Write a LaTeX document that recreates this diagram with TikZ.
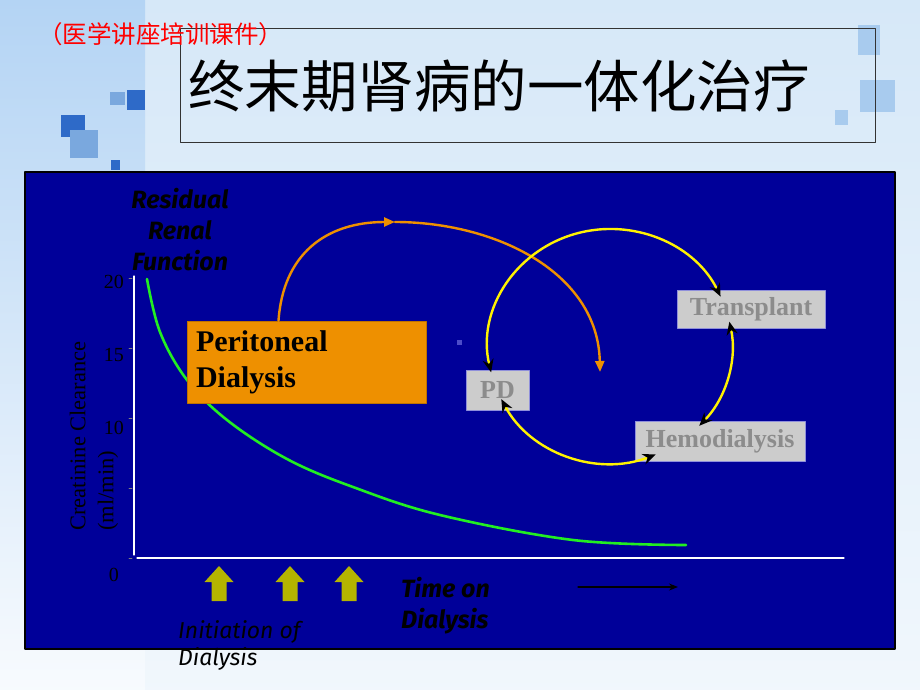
\documentclass[tikz,border=0pt]{standalone}
\usepackage{fontspec}
\setmainfont{Liberation Serif}
\newfontfamily\cjk{Noto Sans CJK SC}
\newfontfamily\hand{Fira Sans}
\usepackage{tikz}
\usetikzlibrary{arrows.meta}

\definecolor{slidebg}{HTML}{D6E8F8}
\definecolor{stripbg}{HTML}{B4D4F4}
\definecolor{panelblue}{HTML}{000099}
\definecolor{curvegreen}{HTML}{22EE22}
\definecolor{pdorange}{HTML}{EE9000}
\definecolor{boxgray}{HTML}{CCCCCC}
\definecolor{textgray}{HTML}{8C8C8C}
\definecolor{olive}{HTML}{B4B400}
\definecolor{sqdark}{HTML}{2E6AC8}
\definecolor{sqlight}{HTML}{7AA8DE}
\definecolor{sqpale}{HTML}{A8CBEE}

\tikzset{
  graybox/.style={draw=boxgray!70!blue, line width=0.6pt, fill=boxgray, text=textgray,
    font=\fontsize{26}{28}\selectfont\bfseries, inner sep=0pt},
  cyclearc/.style={draw=yellow, line width=2.4pt,
    {Stealth[length=13pt,width=11pt,color=black]}-{Stealth[length=13pt,width=11pt,color=black]}},
  orangearc/.style={draw=pdorange, line width=2.4pt, -{Triangle[length=11pt,width=9pt]}},
  axisline/.style={draw=white, line width=1.2pt},
  ticklabel/.style={anchor=east, inner sep=0pt, font=\fontsize{20}{22}\selectfont},
  handtext/.style={inner sep=0pt, font=\hand\fontsize{25}{31}\selectfont\bfseries\itshape}
}

\begin{document}
\begin{tikzpicture}[line cap=round,line join=round,x=1pt,y=-1pt]
  % slide background
  \useasboundingbox (0,0) rectangle (920,690);
  \shade[top color=slidebg, bottom color=slidebg!35!white] (0,0) rectangle (920,690);
  \shade[top color=stripbg, bottom color=stripbg!10!white] (0,0) rectangle (145,690);
  \fill[sqlight] (110,92) rectangle (125,105);
  \fill[sqdark] (127,90) rectangle (145,110);
  \fill[sqdark] (61,115) rectangle (85,137);
  \fill[sqlight] (70,130) rectangle (98,158);
  \fill[sqdark] (111,160) rectangle (120,170);
  \fill[sqpale] (858,25) rectangle (880,55);
  \fill[sqpale] (860,80) rectangle (895,112);
  \fill[sqpale] (835,110) rectangle (848,125);
  % title
  \draw[line width=0.6pt, draw=black!80] (180,28) rectangle (875,142);
  \node[anchor=west, inner sep=0pt] (title) at (188,86)
    {\cjk\fontsize{56.5}{60}\selectfont 终末期肾病的一体化治疗};
  \node[anchor=west, inner sep=0pt, text=red] (subtitle) at (38,34)
    {\cjk\fontsize{24.5}{26}\selectfont （医学讲座培训课件）};

  % panel
  \draw[fill=panelblue, draw=black, line width=1.5pt] (25,172) rectangle (895,649);
  \fill[blue!70!black!70] (457,340) rectangle (462,345);

  % axes
  \coordinate (yTop) at (134,276);
  \coordinate (yBot) at (134,555);
  \coordinate (xLeft) at (137,558);
  \coordinate (xRight) at (844,558);
  \draw[axisline] (yTop) -- (yBot);
  \draw[axisline] (xLeft) -- (xRight);
  \foreach \ty in {278,348,418,488,558}
    \draw[gray, line width=0.6pt] (129,\ty) -- (132,\ty);
  \node[ticklabel] (t20) at (124,282) {20};
  \node[ticklabel] (t15) at (124,355) {15};
  \node[ticklabel] (t10) at (124,428) {10};
  \node[ticklabel] (t0) at (119,575) {0};
  \node[rotate=90, align=left, inner sep=0pt, font=\fontsize{22.5}{28}\selectfont]
    (ylabel) at (94,436) {Creatinine Clearance\\(ml/min)};

  % residual renal function curve
  \draw[curvegreen, line width=2.6pt] plot[smooth, tension=0.6] coordinates
    {(147,279) (160,332) (187,380) (227,420) (287,459) (353,487) (440,515) (573,540) (686,545)};
  \node[handtext, align=center] (rrf) at (180,230) {Residual\\Renal\\Function};

  % peritoneal dialysis box and orange arc
  \node[fill=pdorange, draw=pdorange!80!black, line width=0.6pt, minimum width=239pt,
    minimum height=82pt, text width=221pt, inner xsep=9pt, inner ysep=0pt, align=left,
    font=\fontsize{30}{36}\selectfont\bfseries] (pdbox) at (306.5,362) {Peritoneal\\Dialysis};
  \coordinate (orTop) at (395,222);
  \coordinate (orEnd) at (600,372);
  \draw[orangearc] ([xshift=-28pt]pdbox.north) .. controls (283,255) and (325,222) .. (orTop);
  \draw[orangearc] (orTop) .. controls (495,222) and (598,272) .. (orEnd);

  % modality cycle
  \node[graybox, minimum width=148pt, minimum height=38pt] (trans) at (751,309) {Transplant};
  \node[graybox, minimum width=63pt, minimum height=40pt] (pd) at (497.5,390) {PD};
  \node[graybox, minimum width=170pt, minimum height=40pt] (hemo) at (720,441) {Hemodialysis};
  \coordinate (cyc) at (610,346);
  \draw[cyclearc] (cyc) ++(-193:122 and 117) arc[start angle=-193, end angle=-25, x radius=122, y radius=117];
  \draw[cyclearc] (cyc) ++(-12:122 and 117) arc[start angle=-12, end angle=43, x radius=122, y radius=117];
  \draw[cyclearc] (cyc) ++(68:122 and 117) arc[start angle=68, end angle=153, x radius=122, y radius=117];

  % initiation arrows
  \foreach \cx in {219,290,349}
    \fill[olive] (\cx-7.5,601) -- (\cx-7.5,582) -- (\cx-14.5,582) -- (\cx,566)
      -- (\cx+14.5,582) -- (\cx+7.5,582) -- (\cx+7.5,601) -- cycle;
  \node[anchor=west, inner sep=0pt, align=left, font=\hand\fontsize{23}{27}\selectfont\itshape]
    (init) at (178,645) {Initiation of\\Dialysis};
  \node[handtext, anchor=west, align=left] (time) at (401,606) {Time on\\Dialysis};
  \coordinate (tStart) at (578,587);
  \coordinate (tEnd) at (678,587);
  \draw[line width=1.2pt, -{Stealth[length=9pt,width=7pt]}] (tStart) -- (tEnd);
\end{tikzpicture}
\end{document}
